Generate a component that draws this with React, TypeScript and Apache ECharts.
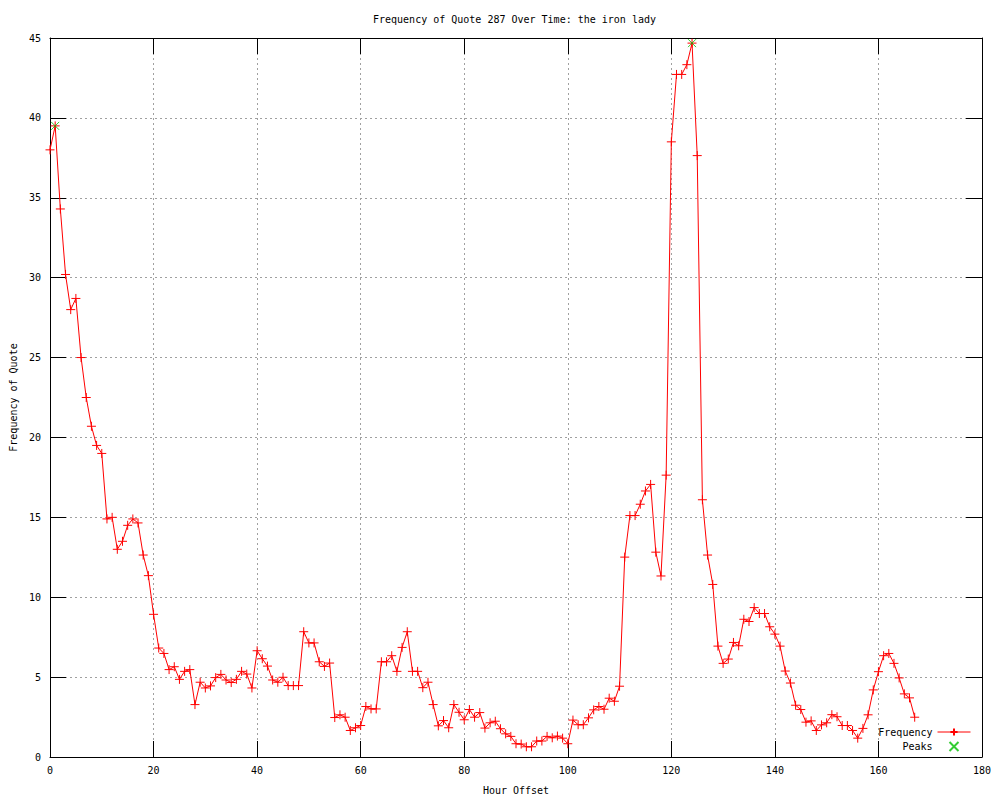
import React, { useEffect, useRef } from "react";
import * as echarts from "echarts";

const hours: number[] = Array.from({ length: 168 }, (_, i) => i);
const frequency: number[] = [
  38.0, 39.5, 34.3, 30.2, 28.0, 28.7, 25.0, 22.5, 20.7, 19.5,
  19.0, 14.9, 15.0, 13.0, 13.5, 14.5, 14.9, 14.65, 12.64, 11.35,
  8.93, 6.82, 6.48, 5.47, 5.65, 4.86, 5.36, 5.47, 3.28, 4.68,
  4.32, 4.45, 4.97, 5.17, 4.82, 4.66, 4.86, 5.36, 5.19, 4.32,
  6.65, 6.15, 5.69, 4.82, 4.68, 4.99, 4.47, 4.47, 4.47, 7.84,
  7.14, 7.14, 5.96, 5.67, 5.88, 2.47, 2.64, 2.49, 1.66, 1.83,
  1.97, 3.16, 3.01, 3.01, 5.96, 5.96, 6.34, 5.36, 6.86, 7.84,
  5.36, 5.36, 4.34, 4.68, 3.28, 1.95, 2.28, 1.83, 3.28, 2.8,
  2.33, 2.97, 2.49, 2.78, 1.81, 2.14, 2.24, 1.77, 1.45, 1.29,
  0.83, 0.81, 0.64, 0.64, 1.0, 1.0, 1.29, 1.2, 1.31, 1.18,
  0.83, 2.31, 2.02, 2.02, 2.45, 2.95, 3.16, 2.99, 3.68, 3.49,
  4.43, 12.51, 15.11, 15.11, 15.82, 16.65, 17.06, 12.82, 11.33, 17.64,
  38.5, 42.72, 42.72, 43.33, 44.68, 37.64, 16.1, 12.64, 10.8, 6.94,
  5.86, 6.13, 7.17, 6.96, 8.62, 8.48, 9.35, 8.98, 8.98, 8.15,
  7.69, 6.94, 5.38, 4.63, 3.24, 2.97, 2.18, 2.26, 1.66, 2.01,
  2.14, 2.65, 2.52, 1.97, 1.97, 1.66, 1.18, 1.79, 2.64, 4.2,
  5.34, 6.34, 6.48, 5.86, 4.95, 3.95, 3.7, 2.49,
];
const peakHours: number[] = [1, 124];
const peakValues: number[] = [39.5, 44.68];

const titleText = "Frequency of Quote 287 Over Time: the iron lady";
const xName = "Hour Offset";
const yName = "Frequency of Quote";

const FONT = "DejaVu Sans Mono";
const PLUS = "path://M0,5L10,5M5,0L5,10";
const CROSS = "path://M0,0L10,10M10,0L0,10";

export default function App() {
  const ref = useRef<HTMLDivElement>(null);
  useEffect(() => {
    if (!ref.current) return;
    const chart = echarts.init(ref.current, undefined, { renderer: "svg" });
    const axisCommon = {
      type: "value" as const,
      axisLine: { show: true, onZero: false, lineStyle: { color: "#000", width: 1 } },
      axisTick: { show: true, inside: true, length: 16, lineStyle: { color: "#000" } },
    };
    chart.setOption({
      animation: false,
      backgroundColor: "#fff",
      title: {
        text: titleText,
        left: 368,
        top: 9,
        textStyle: { fontFamily: FONT, fontSize: 10, fontWeight: "normal", color: "#000" },
      },
      legend: {
        orient: "vertical",
        align: "right",
        right: 24,
        top: 722,
        itemWidth: 33,
        itemHeight: 9,
        itemGap: 4,
        lineStyle: { width: 1 },
        textStyle: { fontFamily: FONT, fontSize: 10, color: "#000" },
        data: ["Frequency", "Peaks"],
      },
      grid: { left: 50, right: 18, top: 38, bottom: 40, containLabel: false },
      xAxis: [
        {
          ...axisCommon,
          min: 0,
          max: 180,
          interval: 20,
          position: "bottom",
          name: xName,
          nameLocation: "middle",
          nameGap: 28,
          nameTextStyle: { fontFamily: FONT, fontSize: 10, color: "#000" },
          axisLabel: { fontFamily: FONT, fontSize: 10, color: "#000", margin: 8 },
          splitLine: { show: true, lineStyle: { color: "#a0a0a0", type: [2, 3], width: 1 } },
        },
        {
          ...axisCommon,
          min: 0,
          max: 180,
          interval: 20,
          position: "top",
          axisLabel: { show: false },
          splitLine: { show: false },
        },
      ],
      yAxis: [
        {
          ...axisCommon,
          min: 0,
          max: 45,
          interval: 5,
          position: "left",
          name: yName,
          nameLocation: "middle",
          nameGap: 31,
          nameRotate: 90,
          nameTextStyle: { fontFamily: FONT, fontSize: 10, color: "#000" },
          axisLabel: { fontFamily: FONT, fontSize: 10, color: "#000", margin: 9 },
          splitLine: { show: true, lineStyle: { color: "#a0a0a0", type: [2, 3], width: 1 } },
        },
        {
          ...axisCommon,
          min: 0,
          max: 45,
          interval: 5,
          position: "right",
          axisLabel: { show: false },
          splitLine: { show: false },
        },
      ],
      series: [
        {
          name: "Frequency",
          type: "line",
          xAxisIndex: 0,
          yAxisIndex: 0,
          data: hours.map((h, i) => [h, frequency[i]]),
          symbol: PLUS,
          symbolSize: 9,
          showSymbol: true,
          showAllSymbol: true,
          lineStyle: { color: "#ff0000", width: 1 },
          itemStyle: { color: "#ff0000", borderColor: "#ff0000", borderWidth: 1 },
          emphasis: { disabled: true },
        },
        {
          name: "Peaks",
          type: "scatter",
          xAxisIndex: 0,
          yAxisIndex: 0,
          data: peakHours.map((h, i) => [h, peakValues[i]]),
          symbol: CROSS,
          symbolSize: 8,
          itemStyle: { color: "#00c000", borderColor: "#00c000", borderWidth: 1 },
          emphasis: { disabled: true },
          z: 3,
        },
      ],
    });
    return () => chart.dispose();
  }, []);
  return (
    <div
      ref={ref}
      style={{ position: "fixed", left: 0, top: 0, width: 1000, height: 800 }}
    />
  );
}
